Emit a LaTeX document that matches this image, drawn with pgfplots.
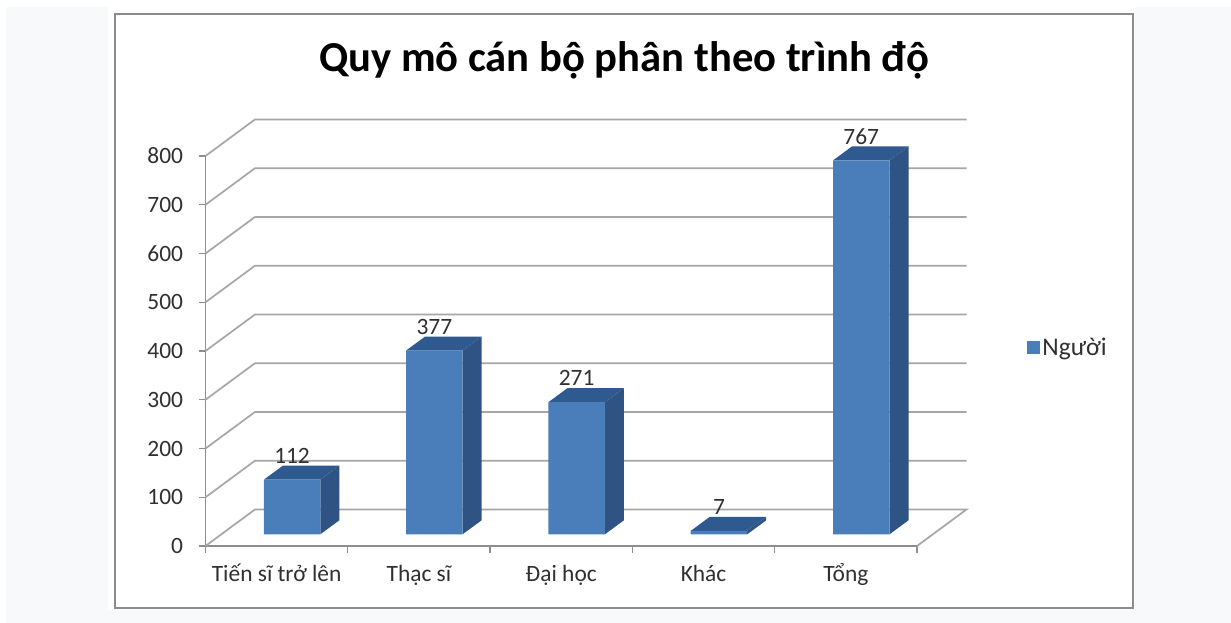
\documentclass[border=0pt]{standalone}
\usepackage{fontspec}
\setmainfont{Carlito}
\usepackage{pgfplots}
\pgfplotsset{compat=1.18}
\definecolor{pagebg}{HTML}{F8F9FB}
\definecolor{boxline}{HTML}{8C8C8C}
\definecolor{gridc}{HTML}{A6A6A6}
\definecolor{axisc}{HTML}{8E8E8E}
\definecolor{txt}{HTML}{303030}
\definecolor{barfront}{HTML}{4A7EBB}
\definecolor{barside}{HTML}{2F5483}
\definecolor{bartop}{HTML}{2E5A90}
\pgfplotstableread{
x v
0 112
1 377
2 271
3 7
4 767
}\bardata
\begin{document}
\begin{tikzpicture}[x=1bp,y=1bp]
\useasboundingbox (0,0) rectangle (1231,623);
\fill[pagebg] (6,0) rectangle (1231,616);
\fill[white] (108,13) rectangle (1135,623);
\draw[boxline,line width=1.6bp] (115,15) rectangle (1133,609);
\node[font=\fontsize{42.8}{46}\selectfont\bfseries,text=black] at (624,563) {Quy mô cán bộ phân theo trình độ};
\begin{axis}[
    at={(205.5bp,77bp)},anchor=south west,
    scale only axis,width=711.5bp,height=390bp,
    clip=false,
    xmin=-0.5,xmax=4.5,ymin=0,ymax=800,
    axis x line*=bottom,axis y line*=left,
    axis line style={axisc,line width=1.6bp},
    tick style={axisc,line width=1.3bp},
    tick align=outside,
    major tick length=7bp,
    xtick={-0.5,0.5,1.5,2.5,3.5,4.5},
    x tick label as interval,
    xticklabels={Tiến sĩ trở lên,Thạc sĩ,Đại học,Khác,Tổng},
    ytick={0,100,...,800},
    /pgf/number format/assume math mode=true,
    tick label style={font=\fontsize{23.5}{26}\selectfont,text=txt},
    xticklabel style={text height=16bp,text depth=5bp,yshift=-9bp},
    yticklabel style={xshift=-12bp},
    legend style={at={(1.155,0.51)},anchor=west,draw=none,fill=none,
        font=\fontsize{25.5}{28}\selectfont,text=txt,inner sep=0pt},
    legend image code/.code={\fill[barfront] (-3bp,-18.5bp) rectangle (10bp,-5.5bp);},
    wall/.style={gridc,line width=1.7bp,no markers,forget plot},
    face/.style={draw=none,no markers,forget plot,xshift=15.4bp,yshift=11.7bp},
]
% walls: level at the front axis, then the same level on the back wall
\addplot[wall] coordinates {(-0.5,0) (-0.152,75) (4.848,75) (4.5,0)};
\addplot[wall] coordinates {(-0.5,100) (-0.152,175) (4.848,175)};
\addplot[wall] coordinates {(-0.5,200) (-0.152,275) (4.848,275)};
\addplot[wall] coordinates {(-0.5,300) (-0.152,375) (4.848,375)};
\addplot[wall] coordinates {(-0.5,400) (-0.152,475) (4.848,475)};
\addplot[wall] coordinates {(-0.5,500) (-0.152,575) (4.848,575)};
\addplot[wall] coordinates {(-0.5,600) (-0.152,675) (4.848,675)};
\addplot[wall] coordinates {(-0.5,700) (-0.152,775) (4.848,775)};
\addplot[wall] coordinates {(-0.5,800) (-0.152,875) (4.848,875)};
% side faces
\addplot[face,fill=barside] coordinates {(0.1985,0) (0.332,28.7) (0.332,140.7) (0.1985,112)} --cycle;
\addplot[face,fill=barside] coordinates {(1.1985,0) (1.332,28.7) (1.332,405.7) (1.1985,377)} --cycle;
\addplot[face,fill=barside] coordinates {(2.1985,0) (2.332,28.7) (2.332,299.7) (2.1985,271)} --cycle;
\addplot[face,fill=barside] coordinates {(3.1985,0) (3.332,28.7) (3.332,35.7) (3.1985,7)} --cycle;
\addplot[face,fill=barside] coordinates {(4.1985,0) (4.332,28.7) (4.332,795.7) (4.1985,767)} --cycle;
% top faces
\addplot[face,fill=bartop] coordinates {(-0.1985,112) (0.1985,112) (0.332,140.7) (-0.065,140.7)} --cycle;
\addplot[face,fill=bartop] coordinates {(0.8015,377) (1.1985,377) (1.332,405.7) (0.935,405.7)} --cycle;
\addplot[face,fill=bartop] coordinates {(1.8015,271) (2.1985,271) (2.332,299.7) (1.935,299.7)} --cycle;
\addplot[face,fill=bartop] coordinates {(2.8015,7) (3.1985,7) (3.332,35.7) (2.935,35.7)} --cycle;
\addplot[face,fill=bartop] coordinates {(3.8015,767) (4.1985,767) (4.332,795.7) (3.935,795.7)} --cycle;
% front faces, with the values
\addplot[ybar,bar width=56.5bp,fill=barfront,draw=none,xshift=15.4bp,yshift=11.7bp,
    nodes near coords,
    every node near coord/.append style={anchor=center,yshift=24bp,
        font=\fontsize{23.5}{26}\selectfont,text=txt}]
    table[x=x,y=v] {\bardata};
\addlegendentry{Người}
\end{axis}
\end{tikzpicture}
\end{document}
